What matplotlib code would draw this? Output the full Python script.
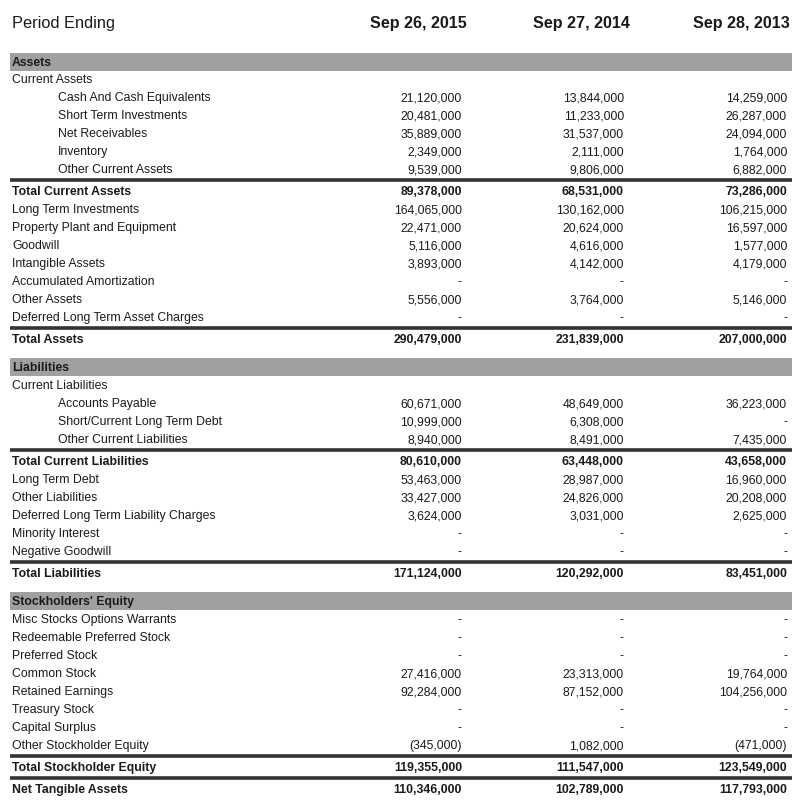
import matplotlib.pyplot as plt
from matplotlib.patches import Rectangle

plt.rcParams['font.family'] = ['Liberation Sans', 'DejaVu Sans']

periods = ["Sep 26, 2015", "Sep 27, 2014", "Sep 28, 2013"]

# row labels and kinds: S = section band, H = sub heading, I = indented item,
# P = plain row, T = total row (line above, bold)
labels = [
    "Assets", "Current Assets", "Cash And Cash Equivalents", "Short Term Investments",
    "Net Receivables", "Inventory", "Other Current Assets", "Total Current Assets",
    "Long Term Investments", "Property Plant and Equipment", "Goodwill", "Intangible Assets",
    "Accumulated Amortization", "Other Assets", "Deferred Long Term Asset Charges", "Total Assets",
    "Liabilities", "Current Liabilities", "Accounts Payable", "Short/Current Long Term Debt",
    "Other Current Liabilities", "Total Current Liabilities", "Long Term Debt", "Other Liabilities",
    "Deferred Long Term Liability Charges", "Minority Interest", "Negative Goodwill", "Total Liabilities",
    "Stockholders' Equity", "Misc Stocks Options Warrants", "Redeemable Preferred Stock",
    "Preferred Stock", "Common Stock", "Retained Earnings", "Treasury Stock", "Capital Surplus",
    "Other Stockholder Equity", "Total Stockholder Equity", "Net Tangible Assets",
]
kinds = [
    "S", "H", "I", "I", "I", "I", "I", "T",
    "P", "P", "P", "P", "P", "P", "P", "T",
    "S", "H", "I", "I", "I", "T", "P", "P", "P", "P", "P", "T",
    "S", "P", "P", "P", "P", "P", "P", "P", "P", "T", "T",
]

# None = blank, "-" = dash
v2015 = [
    None, None, 21120000, 20481000, 35889000, 2349000, 9539000, 89378000,
    164065000, 22471000, 5116000, 3893000, "-", 5556000, "-", 290479000,
    None, None, 60671000, 10999000, 8940000, 80610000, 53463000, 33427000,
    3624000, "-", "-", 171124000,
    None, "-", "-", "-", 27416000, 92284000, "-", "-", -345000, 119355000, 110346000,
]
v2014 = [
    None, None, 13844000, 11233000, 31537000, 2111000, 9806000, 68531000,
    130162000, 20624000, 4616000, 4142000, "-", 3764000, "-", 231839000,
    None, None, 48649000, 6308000, 8491000, 63448000, 28987000, 24826000,
    3031000, "-", "-", 120292000,
    None, "-", "-", "-", 23313000, 87152000, "-", "-", 1082000, 111547000, 102789000,
]
v2013 = [
    None, None, 14259000, 26287000, 24094000, 1764000, 6882000, 73286000,
    106215000, 16597000, 1577000, 4179000, "-", 5146000, "-", 207000000,
    None, None, 36223000, "-", 7435000, 43658000, 16960000, 20208000,
    2625000, "-", "-", 83451000,
    None, "-", "-", "-", 19764000, 104256000, "-", "-", -471000, 123549000, 117793000,
]


def fmt(v):
    if v is None:
        return ""
    if v == "-":
        return "-"
    if v < 0:
        return "({:,})".format(-v)
    return "{:,}".format(v)


fig = plt.figure(figsize=(7.92, 8.02), dpi=100)
ax = fig.add_axes([0, 0, 1, 1])
ax.set_xlim(0, 792)
ax.set_ylim(802, 0)
ax.axis("off")

col_x = [462, 624, 787]
head_x = [467, 630, 790]
txt = "#1a1a1a"
fs = 8.8
off = 4.2  # baseline offset below row centre

ax.text(12, 22 + 6, "Period Ending", fontsize=11.8, color=txt, va="baseline", ha="left")
for x, p in zip(head_x, periods):
    ax.text(x, 22 + 6, p, fontsize=11.6, fontweight="bold", color=txt, va="baseline", ha="right")

y = 34
prev = None
for lab, kind, a, b, c in zip(labels, kinds, v2015, v2014, v2013):
    if kind == "S":
        y = y + 28 if prev is not None else 62
        ax.add_patch(Rectangle((10, y - 9), 782, 18, color="#a0a0a0", lw=0))
        ax.text(12, y + off, lab, fontsize=fs, fontweight="bold", color=txt, va="baseline")
    elif kind == "T":
        y += 22
        ax.plot([10, 792], [y - 11, y - 11], color="#333333", lw=2.6, solid_capstyle="butt")
        ax.text(12, y + off, lab, fontsize=fs, fontweight="bold", color=txt, va="baseline")
        for x, v in zip(col_x, (a, b, c)):
            ax.text(x, y + off, fmt(v), fontsize=fs, fontweight="bold", color=txt,
                    va="baseline", ha="right")
    else:
        y += 17 if prev == "S" and y < 70 else 18
        ax.text(58 if kind == "I" else 12, y + off, lab, fontsize=fs, color=txt, va="baseline")
        for x, v in zip(col_x, (a, b, c)):
            ax.text(x, y + off, fmt(v), fontsize=fs, color=txt, va="baseline", ha="right")
    prev = kind

fig.savefig("out.png", dpi=100, facecolor="white")
